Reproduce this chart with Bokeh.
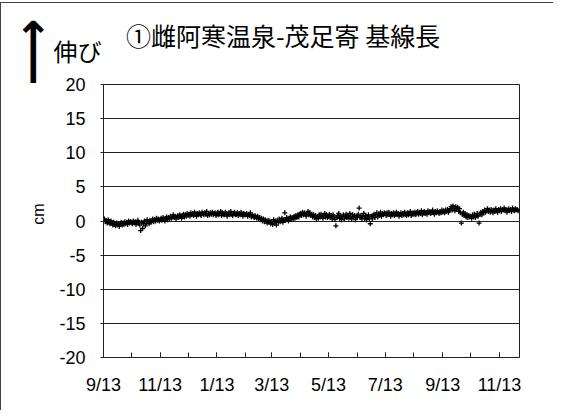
import numpy as np
import pandas as pd
from bokeh.plotting import figure
from bokeh.models import Range1d, FixedTicker, Label
from bokeh.embed import file_html
from bokeh.resources import INLINE

# ---- data (daily baseline-length change, cm) ----
start_date = "2012-09-13"
end_date = "2013-12-04"

m01 = [0.1, 0.3, -0.1, 0.0, -0.3, 0.2, -0.2, -0.4, 0.0, -0.3, -0.6, -0.2, -0.5, -0.7, -0.3,
       -0.6, -0.4, -0.8, -0.5, -0.2, -0.6, -0.3, -0.5, -0.1, -0.4, -0.2, -0.5, 0.0, -0.3, -0.1]
m02 = [-0.2, -0.4, 0.0, -0.3, -0.1, -0.5, -0.2, 0.1, -0.3, -0.6, -1.4, -0.2, -1.1, -0.4, 0.0,
       -0.7, -0.3, 0.2, -0.1, -0.4, 0.1, -0.2, 0.0, 0.3, -0.1, 0.2, 0.0, 0.4, 0.1, 0.3, 0.0]
m03 = [0.2, 0.4, 0.1, 0.5, 0.3, 0.0, 0.4, 0.6, 0.2, 0.5, 0.3, 0.7, 0.4, 0.6, 0.9,
       0.5, 0.7, 0.3, 0.6, 0.8, 0.5, 0.9, 0.7, 0.4, 0.8, 1.0, 0.6, 0.9, 0.7, 1.1]
m04 = [0.8, 1.0, 0.7, 1.2, 0.9, 1.1, 0.8, 1.3, 1.0, 0.7, 1.1, 0.9, 1.2, 1.0, 0.8,
       1.3, 1.1, 0.9, 1.2, 1.0, 1.4, 0.8, 1.1, 0.9, 1.2, 1.0, 1.3, 0.9, 1.1, 1.2, 0.8]
m05 = [1.0, 1.3, 0.9, 1.1, 1.4, 0.8, 1.2, 1.0, 0.9, 1.3, 1.1, 0.7, 1.0, 1.2, 0.9,
       1.4, 1.0, 0.8, 1.1, 1.3, 0.9, 1.0, 1.2, 0.8, 1.1, 0.9, 1.3, 1.0, 0.7, 1.1, 0.9]
m06 = [0.9, 1.1, 0.7, 1.0, 0.8, 1.2, 0.6, 0.9, 0.7, 0.5, 0.8, 0.6, 0.4, 0.7,
       0.3, 0.5, 0.2, 0.4, 0.0, 0.3, -0.1, 0.2, 0.0, -0.3, 0.1, -0.2, 0.0, -0.4]
m07 = [-0.1, -0.5, 0.2, -0.3, 0.0, -0.6, 0.1, -0.2, 0.3, -0.1, 0.0, 0.4, -0.2, 0.2, 1.2,
       0.1, 0.5, 0.3, 0.0, 0.4, 0.6, 0.2, 0.5, 0.3, 0.7, 0.4, 0.8, 0.5, 0.9, 0.6, 1.0]
m08 = [1.1, 0.8, 1.3, 0.9, 1.2, 1.0, 0.7, 1.1, 1.4, 0.9, 1.2, 0.8, 1.0, 0.6, 0.9,
       0.5, 0.8, 0.3, 0.7, 0.4, 0.9, 0.6, 1.0, 0.7, 0.4, 0.8, 1.1, 0.6, 0.9, 0.5]
m09 = [0.7, 1.0, 0.5, 0.8, 0.3, 0.9, 0.6, 0.2, -0.7, 0.5, 0.8, 1.1, 0.4, 0.7, 0.2,
       0.6, 0.9, 0.3, 0.7, 1.0, 0.5, 0.8, 0.4, 1.1, 0.6, 0.3, 0.9, 0.5, 0.8, 0.2, 0.7]
m10 = [0.6, 1.0, 1.9, 0.5, 0.8, 0.3, 0.7, 1.1, 0.4, 0.8, 0.2, 0.6, 0.9, 0.4, -0.4,
       0.7, 0.3, 0.8, 1.0, 0.5, 0.9, 1.2, 0.6, 1.0, 0.8, 1.3, 0.7, 1.1, 0.9, 1.2]
m11 = [1.1, 0.8, 1.2, 0.9, 1.3, 1.0, 0.7, 1.1, 0.9, 1.2, 0.8, 1.0, 1.3, 0.9, 1.1,
       0.7, 1.0, 1.2, 0.8, 1.1, 0.9, 1.3, 1.0, 0.8, 1.2, 0.9, 1.1, 1.4, 0.8, 1.0, 1.2]
m12 = [1.0, 1.3, 0.9, 1.2, 1.4, 1.0, 1.3, 1.1, 1.5, 0.9, 1.2, 1.4, 1.1, 1.3, 1.0,
       1.5, 1.2, 1.4, 1.1, 1.3, 1.6, 1.2, 1.0, 1.4, 1.2, 1.5, 1.3, 1.1, 1.4, 1.2, 1.6]
m13 = [1.3, 1.5, 1.2, 1.6, 1.4, 1.7, 1.3, 1.5, 1.8, 2.1, 1.6, 2.2, 1.9, 1.5, 2.1,
       1.7, 2.0, 1.4, 1.8, 1.2, -0.3, 1.0, 1.3, 0.8, 1.1, 0.6, 0.9, 0.5, 0.8, 0.6]
m14 = [0.7, 0.4, 0.9, 0.6, 1.0, 0.5, 0.8, 1.1, 0.7, -0.3, 1.0, 1.3, 0.9, 1.4, 1.2,
       1.6, 1.3, 1.5, 1.8, 1.4, 1.6, 1.3, 1.7, 1.5, 1.2, 1.6, 1.4, 1.8, 1.5, 1.3, 1.7]
m15 = [1.5, 1.8, 1.4, 1.7, 1.6, 1.9, 1.5, 1.7, 1.3, 1.6, 1.8, 1.5, 1.7, 1.4, 1.9,
       1.6, 1.5, 1.8, 1.6, 1.7, 1.5]

displacement_cm = m01 + m02 + m03 + m04 + m05 + m06 + m07 + m08 + m09 + m10 + m11 + m12 + m13 + m14 + m15

tick_dates = ["2012-09-13", "2012-10-13", "2012-11-13", "2012-12-13", "2013-01-13",
              "2013-02-13", "2013-03-13", "2013-04-13", "2013-05-13", "2013-06-13",
              "2013-07-13", "2013-08-13", "2013-09-13", "2013-10-13", "2013-11-13"]
tick_labels = ["9/13", "11/13", "1/13", "3/13", "5/13", "7/13", "9/13", "11/13"]
y_ticks = [-20, -15, -10, -5, 0, 5, 10, 15, 20]
y_tick_labels = ["-20", "-15", "-10", "-5", "0", "5", "10", "15", "20"]

title_text = "①雌阿寒温泉-茂足寄 基線長"
up_text = "伸び"
up_arrow = "⟶"
y_unit = "cm"

# ---- derived positions (days since start) ----
t0 = pd.Timestamp(start_date)
days = np.arange(len(displacement_cm))
tick_days = [(pd.Timestamp(d) - t0).days for d in tick_dates]
label_days = tick_days[::2]
x_end = (pd.Timestamp(end_date) - t0).days + 0.5

FL, FT, FW, FH = 101, 81, 417, 273   # frame inside the canvas
W, H = 553, 408
p = figure(width=W, height=H, output_backend="svg", toolbar_location=None,
           x_range=Range1d(0, x_end), y_range=Range1d(-20, 20),
           min_border_left=FL, min_border_right=W - FL - FW,
           min_border_top=FT, min_border_bottom=H - FT - FH)
p.styles = {"margin-top": "2px", "border-left": "1px solid #444", "border-top": "1px solid #444"}
p.background_fill_color = "white"
p.border_fill_color = "white"
p.outline_line_color = "#222"
p.outline_line_width = 1

p.xgrid.visible = False
p.ygrid.ticker = FixedTicker(ticks=y_ticks)
p.ygrid.grid_line_color = "#222"
p.ygrid.grid_line_width = 1

tick_font = "Liberation Sans"
p.yaxis.ticker = FixedTicker(ticks=y_ticks)
p.yaxis.major_label_overrides = {t: s for t, s in zip(y_ticks, y_tick_labels)}
p.yaxis.major_tick_in = 0
p.yaxis.major_tick_out = 3
p.yaxis.minor_tick_line_color = None
p.yaxis.major_label_standoff = 15
p.yaxis.major_label_text_font = tick_font
p.yaxis.major_label_text_font_size = "18px"
p.yaxis.major_label_text_color = "black"
p.yaxis.axis_line_color = "#222"
p.yaxis.major_tick_line_color = "#222"

p.xaxis.ticker = FixedTicker(ticks=label_days, minor_ticks=tick_days)
p.xaxis.major_label_overrides = {d: lab for d, lab in zip(label_days, tick_labels)}
p.xaxis.major_tick_in = 5
p.xaxis.major_tick_out = 0
p.xaxis.minor_tick_in = 5
p.xaxis.minor_tick_out = 0
p.xaxis.major_label_standoff = 17
p.xaxis.major_label_text_font = tick_font
p.xaxis.major_label_text_font_size = "18px"
p.xaxis.major_label_text_color = "black"
p.xaxis.axis_line_color = "#222"
p.xaxis.major_tick_line_color = "#222"
p.xaxis.minor_tick_line_color = "#222"

p.scatter(days, displacement_cm, marker="cross", size=5, line_color="black", line_width=1.3)

# texts outside the frame: annotations in side panels (not clipped), placed in data units.
# panels are chosen so that their sizes stay inside the borders reserved above.
dpx = x_end / FW      # days per pixel
cpx = 40.0 / FH       # cm per pixel
cjk = "Noto Sans CJK JP"
p.add_layout(Label(x=180 * dpx, y=20 + 49.5 * cpx, text=title_text,
                   text_font=cjk, text_font_size="25px", text_align="center",
                   text_baseline="middle", text_color="black"), "above")
p.add_layout(Label(x=-26 * dpx, y=20 + 34.5 * cpx, text=up_text,
                   text_font=cjk, text_font_size="24px", text_align="center",
                   text_baseline="middle", text_color="black"), "above")
p.add_layout(Label(x=-72 * dpx, y=20 + 32.5 * cpx, text=up_arrow,
                   text_font="DejaVu Sans", text_font_size="47px", text_font_style="bold",
                   text_align="center", text_baseline="middle", angle=np.pi / 2,
                   text_color="black"), "left")
p.add_layout(Label(x=-65 * dpx, y=1.0, text=y_unit,
                   text_font=tick_font, text_font_size="16px", text_align="center",
                   text_baseline="middle", angle=np.pi / 2, text_color="black"), "right")

open("out.html", "w").write(file_html(p, INLINE))
